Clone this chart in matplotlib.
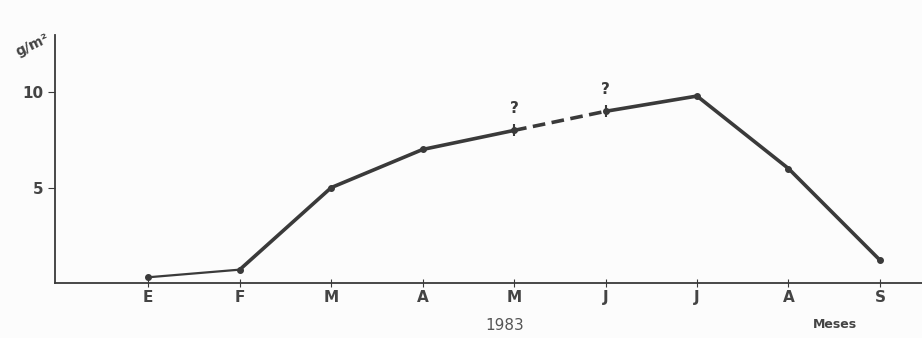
import numpy as np
import matplotlib
matplotlib.use('Agg')
import matplotlib.pyplot as plt

# biomasa mensual (g/m2), 1983
months = ['E', 'F', 'M', 'A', 'M', 'J', 'J', 'A', 'S']
biomass = [0.3, 0.7, 5.0, 7.0, 8.0, 9.0, 9.8, 6.0, 1.2]
uncertain = [4, 5]  # May, June marked with '?'

x = np.arange(1, len(months) + 1)
ink = '#3a3a3a'

fig = plt.figure(figsize=(9.22, 3.38), dpi=100)
fig.patch.set_facecolor('#fcfcfc')
ax = fig.add_axes([55/922, 55/338, 867/922, 248/338])
ax.set_facecolor('#fcfcfc')

# solid parts and the dashed (uncertain) stretch; E-F drawn thinner as in original
ax.plot(x[:2], biomass[:2], color=ink, lw=1.6)
ax.plot(x[1:5], biomass[1:5], color=ink, lw=2.6, solid_capstyle='round')
ax.plot(x[5:], biomass[5:], color=ink, lw=2.6, solid_capstyle='round')
ax.plot(x[4:6], biomass[4:6], color=ink, lw=2.6, ls=(0, (3.5, 1.8)))
ax.plot(x, biomass, 'o', color=ink, ms=4)
for i in uncertain:
    ax.plot(x[i], biomass[i], '|', color=ink, ms=9, mew=1.5)
    ax.annotate('?', (x[i], biomass[i]), xytext=(0, 10), textcoords='offset points',
                ha='center', va='bottom', fontsize=11, fontweight='bold', color=ink)

ax.set_xlim(-0.02, 9.46)
ax.set_ylim(0, 13)
ax.spines['top'].set_visible(False)
ax.spines['right'].set_visible(False)
ax.spines['left'].set_color(ink)
ax.spines['bottom'].set_color(ink)
ax.spines['left'].set_linewidth(1.3)
ax.spines['bottom'].set_linewidth(1.3)

ax.set_xticks(x)
ax.set_xticklabels(months, fontsize=11, fontweight='bold', color='#444444')
ax.tick_params(axis='x', direction='inout', length=6, color=ink, pad=2)
ax.set_yticks([5, 10])
ax.set_yticklabels(['5', '10'], fontsize=11, fontweight='bold', color='#444444')
ax.tick_params(axis='y', direction='out', length=5, color=ink, pad=3)

fig.text(32/922, 1 - 45/338, 'g/m²', rotation=25, ha='center', va='center',
         fontsize=10, fontweight='bold', color='#444444')
fig.text(505/922, 1 - 325/338, '1983', ha='center', va='center',
         fontsize=11, color='#555555')
fig.text(835/922, 1 - 325/338, 'Meses', ha='center', va='center',
         fontsize=9, fontweight='bold', color='#444444')

fig.savefig('out.png', dpi=100, facecolor=fig.get_facecolor())
